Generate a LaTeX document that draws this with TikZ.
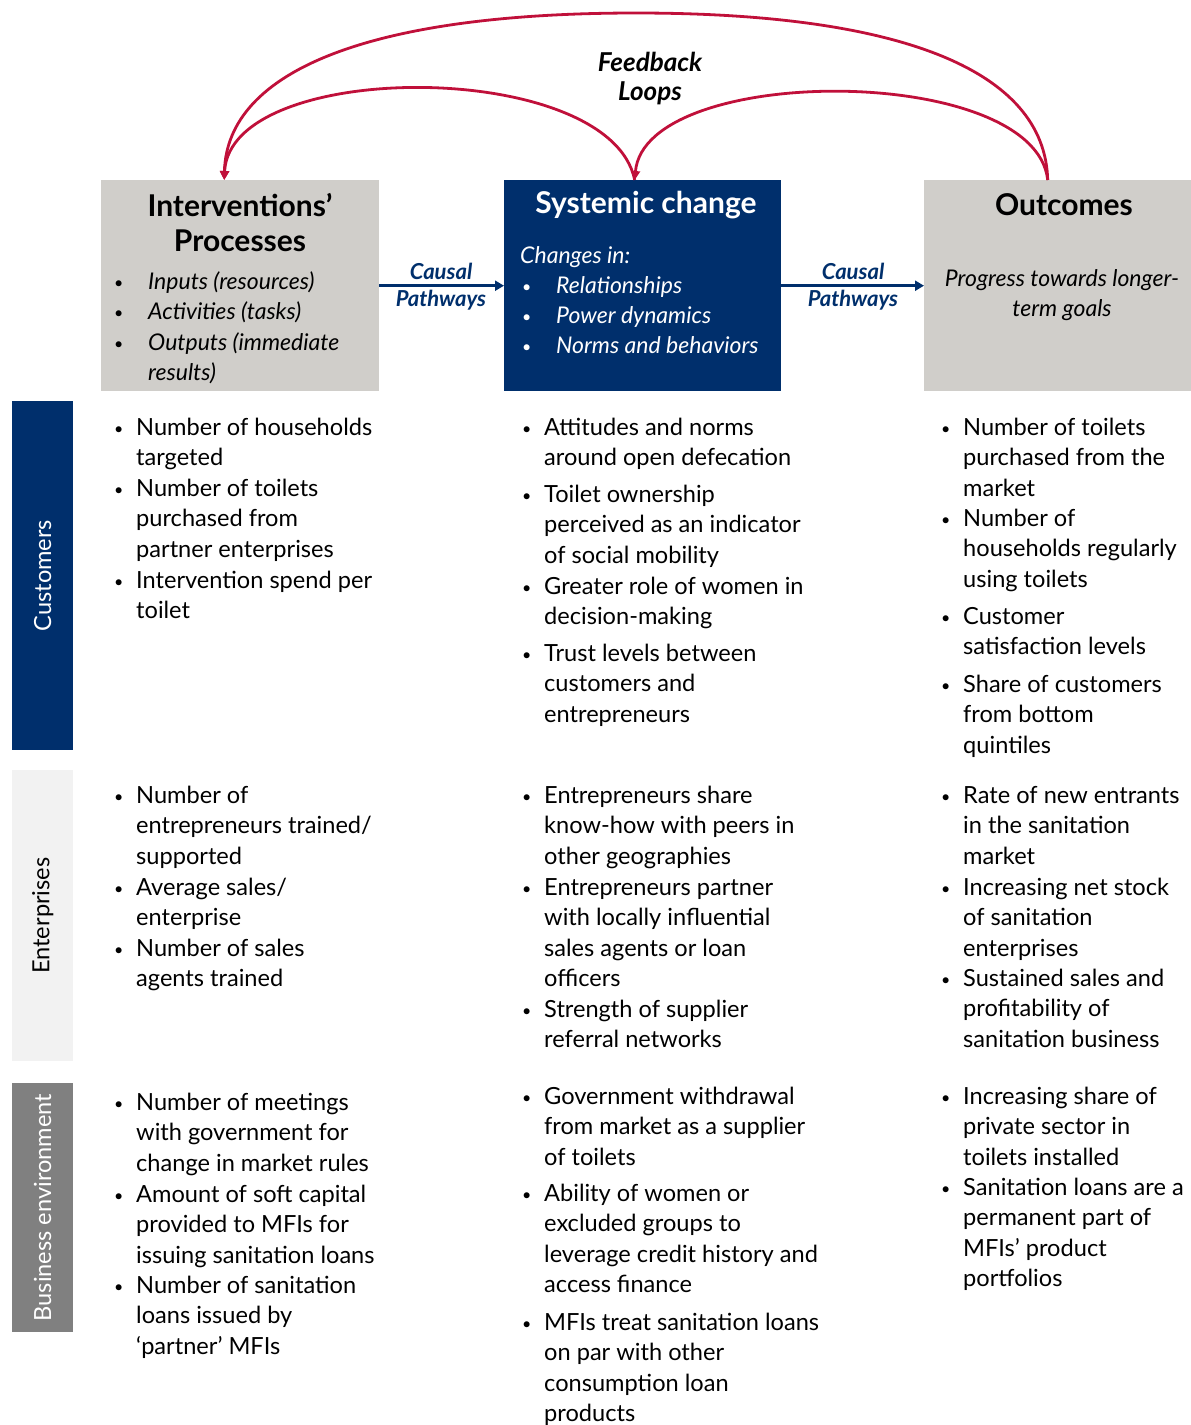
\documentclass[tikz,border=0pt]{standalone}
\usepackage{fontspec}
\setmainfont{Lato}
\usetikzlibrary{arrows.meta,calc}
\definecolor{navy}{RGB}{0,47,108}
\definecolor{boxgray}{RGB}{208,206,202}
\definecolor{entgray}{RGB}{242,242,242}
\definecolor{busgray}{RGB}{128,128,128}
\definecolor{fbred}{RGB}{192,16,58}
\newcommand{\bulletlist}[2][22pt]{\parbox[t]{460pt}{\raggedright\let\\\newline\baselineskip=30.6pt\hangindent=#1\hangafter=1\noindent\makebox[#1][l]{\raisebox{1pt}{\fontsize{16}{16}\selectfont\textbullet}}#2}}
\tikzset{
  panel/.style={draw=none, inner sep=0pt, anchor=north west},
  bodyitem/.style={anchor=base west, inner sep=0pt, font=\fontsize{23.6}{30.6}\selectfont},
  headitem/.style={anchor=base west, inner sep=0pt, font=\fontsize{23}{30.6}\selectfont\itshape},
  titletext/.style={inner sep=0pt, align=center, font=\fontsize{30}{35}\selectfont\bfseries},
  causallabel/.style={inner sep=0pt, align=center, text=navy, font=\fontsize{22}{27}\selectfont\bfseries\itshape},
  sidelabel/.style={inner sep=0pt, rotate=90, font=\fontsize{23.6}{26}\selectfont},
  causal/.style={draw=navy, line width=2.6pt, -{Triangle[length=9pt,width=10pt]}},
  feedback/.style={draw=fbred, line width=2.8pt, -{Triangle[length=9pt,width=9pt]}}
}
\begin{document}
\begin{tikzpicture}[x=1pt,y=-1pt]
\useasboundingbox (0,0) rectangle (1191,1425);

% header panels
\node[panel, fill=boxgray, minimum width=278pt, minimum height=211pt] (int) at (101,180) {};
\node[panel, fill=navy, minimum width=277pt, minimum height=211pt] (sys) at (504,180) {};
\node[panel, fill=boxgray, minimum width=267pt, minimum height=211pt] (out) at (924,180) {};

% side bars
\node[panel, fill=navy, minimum width=61pt, minimum height=349pt] (custbar) at (12,401) {};
\node[panel, fill=entgray, minimum width=61pt, minimum height=291pt] (entbar) at (12,770) {};
\node[panel, fill=busgray, minimum width=61pt, minimum height=249pt] (busbar) at (12,1083) {};
\node[sidelabel, text=white] (custlabel) at (custbar.center) {Customers};
\node[sidelabel, text=black] (entlabel) at (entbar.center) {Enterprises};
\node[sidelabel, text=white] (buslabel) at (busbar.center) {Business environment};

% header texts
\node[titletext] (inttitle) at (240,223) {Interventions’\\Processes};
\node[headitem] (ih1) at (114,289) {\bulletlist[34pt]{Inputs (resources)}};
\node[headitem] (ih2) at (114,319) {\bulletlist[34pt]{Activities (tasks)}};
\node[headitem] (ih3) at (114,350) {\bulletlist[34pt]{Outputs (immediate\\results)}};

\node[titletext, text=white] (systitle) at (646,205) {Systemic change};
\node[headitem, text=white] (sysintro) at (520,263) {Changes in:};
\node[headitem, text=white] (sh1) at (522,293) {\bulletlist[34pt]{Relationships}};
\node[headitem, text=white] (sh2) at (522,323) {\bulletlist[34pt]{Power dynamics}};
\node[headitem, text=white] (sh3) at (522,353) {\bulletlist[34pt]{Norms and behaviors}};

\node[titletext] (outtitle) at (1064,205) {Outcomes};
\node[inner sep=0pt, align=center, font=\fontsize{23}{30.6}\selectfont\itshape] (outtext) at (1062,295) {Progress towards longer-\\term goals};

% causal pathways
\draw[causal] (int.east) -- (sys.west);
\draw[causal] (sys.east) -- (out.west);
\node[causallabel] (cp1) at (441,287) {Causal\\Pathways};
\node[causallabel] (cp2) at (853,287) {Causal\\Pathways};

% feedback loops
\coordinate (iTop) at ([xshift=-16pt]int.north);
\coordinate (sTop) at ([xshift=-8pt]sys.north);
\coordinate (oTop) at ([xshift=-10pt]out.north);
\draw[feedback] (oTop) .. controls (1045,70) and (900,13) .. (636,13) .. controls (372,13) and (227,70) .. (iTop);
\draw[feedback] (sTop) .. controls (610,58) and (230,58) .. (iTop);
\draw[feedback] (oTop) .. controls (1035,63) and (645,63) .. (sTop);
\node[inner sep=0pt, align=center, font=\fontsize{26}{29}\selectfont\bfseries\itshape] (fbl) at (650,79) {Feedback\\Loops};

% Customers
\node[bodyitem] (c1) at (114,435) {\bulletlist{Number of households\\targeted}};
\node[bodyitem] (c2) at (114,496) {\bulletlist{Number of toilets\\purchased from\\partner enterprises}};
\node[bodyitem] (c3) at (114,588) {\bulletlist{Intervention spend per\\toilet}};

\node[bodyitem] (m1) at (522,435) {\bulletlist{Attitudes and norms\\around open defecation}};
\node[bodyitem] (m2) at (522,502) {\bulletlist{Toilet ownership\\perceived as an indicator\\of social mobility}};
\node[bodyitem] (m3) at (522,594) {\bulletlist{Greater role of women in\\decision-making}};
\node[bodyitem] (m4) at (522,661) {\bulletlist{Trust levels between\\customers and\\entrepreneurs}};

\node[bodyitem] (r1) at (941,435) {\bulletlist{Number of toilets\\purchased from the\\market}};
\node[bodyitem] (r2) at (941,526) {\bulletlist{Number of\\households regularly\\using toilets}};
\node[bodyitem] (r3) at (941,624) {\bulletlist{Customer\\satisfaction levels}};
\node[bodyitem] (r4) at (941,692) {\bulletlist{Share of customers\\from bottom\\quintiles}};

% Enterprises
\node[bodyitem] (c4) at (114,803) {\bulletlist{Number of\\entrepreneurs trained/\\supported}};
\node[bodyitem] (c5) at (114,895) {\bulletlist{Average sales/\\enterprise}};
\node[bodyitem] (c6) at (114,956) {\bulletlist{Number of sales\\agents trained}};

\node[bodyitem] (m5) at (522,803) {\bulletlist{Entrepreneurs share\\know-how with peers in\\other geographies}};
\node[bodyitem] (m6) at (522,895) {\bulletlist{Entrepreneurs partner\\with locally influential\\sales agents or loan\\officers}};
\node[bodyitem] (m7) at (522,1017) {\bulletlist{Strength of supplier\\referral networks}};

\node[bodyitem] (r5) at (941,803) {\bulletlist{Rate of new entrants\\in the sanitation\\market}};
\node[bodyitem] (r6) at (941,895) {\bulletlist{Increasing net stock\\of sanitation\\enterprises}};
\node[bodyitem] (r7) at (941,986) {\bulletlist{Sustained sales and\\profitability of\\sanitation business}};

% Business environment
\node[bodyitem] (c7) at (114,1110) {\bulletlist{Number of meetings\\with government for\\change in market rules}};
\node[bodyitem] (c8) at (114,1202) {\bulletlist{Amount of soft capital\\provided to MFIs for\\issuing sanitation loans}};
\node[bodyitem] (c9) at (114,1293) {\bulletlist{Number of sanitation\\loans issued by\\‘partner’ MFIs}};

\node[bodyitem] (m8) at (522,1104) {\bulletlist{Government withdrawal\\from market as a supplier\\of toilets}};
\node[bodyitem] (m9) at (522,1201) {\bulletlist{Ability of women or\\excluded groups to\\leverage credit history and\\access finance}};
\node[bodyitem] (m10) at (522,1330) {\bulletlist{MFIs treat sanitation loans\\on par with other\\consumption loan\\products}};

\node[bodyitem] (r8) at (941,1104) {\bulletlist{Increasing share of\\private sector in\\toilets installed}};
\node[bodyitem] (r9) at (941,1195) {\bulletlist{Sanitation loans are a\\permanent part of\\MFIs’ product\\portfolios}};
\end{tikzpicture}
\end{document}
